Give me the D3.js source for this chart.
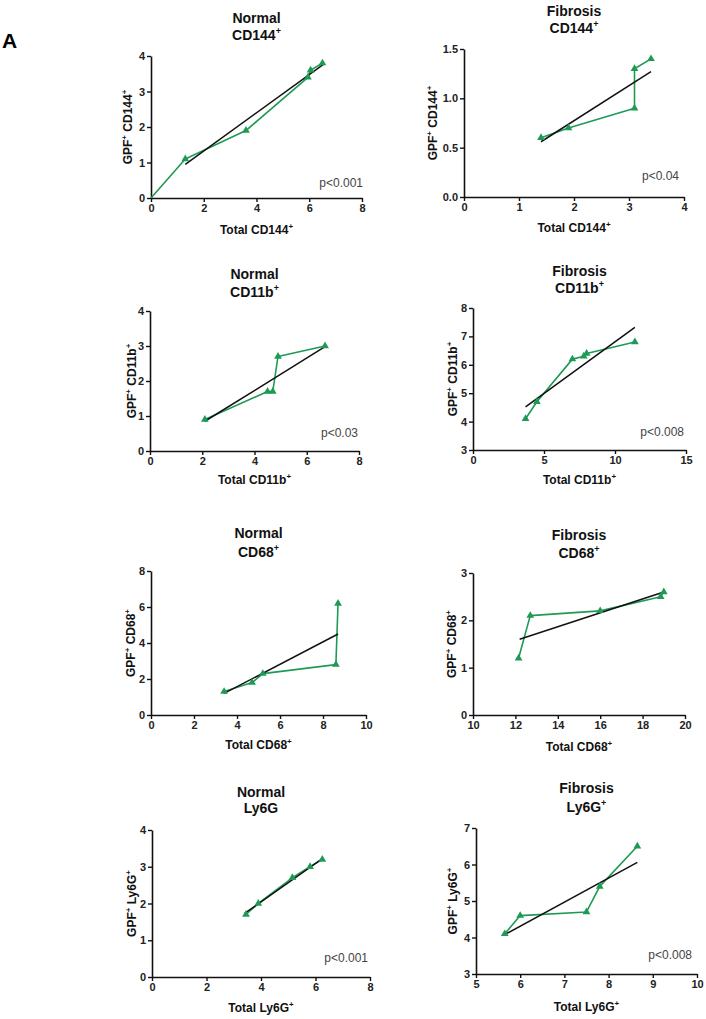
<!DOCTYPE html>
<html><head><meta charset="utf-8">
<script src="https://cdn.jsdelivr.net/npm/d3@7"></script>
<style>
body{margin:0;background:#fff;}
svg{display:block;font-family:"Liberation Sans",Arial,sans-serif;}
</style></head>
<body>
<svg id="c" width="706" height="1019"></svg>
<script>
// ---------- data ----------
const normalCD144X = [1.3, 3.6, 5.95, 6.05, 6.5];
const normalCD144Y = [1.1, 1.9, 3.4, 3.6, 3.8];
const normalCD144Start = [0, 0];
const normalCD144Fit = [[1.3, 0.95], [6.55, 3.77]];

const fibrosisCD144X = [1.4, 1.9, 3.1, 3.1, 3.4];
const fibrosisCD144Y = [0.6, 0.7, 0.9, 1.3, 1.4];
const fibrosisCD144Fit = [[1.4, 0.56], [3.4, 1.27]];

const normalCD11bX = [2.1, 4.5, 4.7, 4.9, 6.7];
const normalCD11bY = [0.9, 1.7, 1.7, 2.7, 3.0];
const normalCD11bFit = [[2.1, 0.85], [6.7, 2.98]];

const fibrosisCD11bX = [3.7, 4.5, 7.0, 7.8, 8.0, 11.4];
const fibrosisCD11bY = [4.1, 4.7, 6.2, 6.3, 6.4, 6.8];
const fibrosisCD11bFit = [[3.7, 4.52], [11.4, 7.32]];

const normalCD68X = [3.4, 4.7, 5.2, 8.6, 8.7];
const normalCD68Y = [1.3, 1.8, 2.3, 2.8, 6.2];
const normalCD68Fit = [[3.4, 1.2], [8.7, 4.5]];

const fibrosisCD68X = [12.15, 12.7, 16.0, 18.85, 19.0];
const fibrosisCD68Y = [1.2, 2.1, 2.2, 2.5, 2.6];
const fibrosisCD68Fit = [[12.2, 1.6], [19.0, 2.6]];

const normalLy6GX = [3.45, 3.9, 5.15, 5.8, 6.25];
const normalLy6GY = [1.7, 2.0, 2.7, 3.0, 3.2];
const normalLy6GFit = [[3.4, 1.73], [6.25, 3.22]];

const fibrosisLy6GX = [5.65, 6.0, 7.5, 7.8, 8.65];
const fibrosisLy6GY = [4.1, 4.6, 4.7, 5.4, 6.5];
const fibrosisLy6GFit = [[5.65, 4.08], [8.65, 6.06]];

// tick labels
const ticksX0to8 = [0, 2, 4, 6, 8];
const ticksX0to4 = [0, 1, 2, 3, 4];
const ticksX0to15 = [0, 5, 10, 15];
const ticksX0to10 = [0, 2, 4, 6, 8, 10];
const ticksX10to20 = [10, 12, 14, 16, 18, 20];
const ticksX5to10 = [5, 6, 7, 8, 9, 10];
const ticksY0to4 = [0, 1, 2, 3, 4];
const ticksY0to15 = [0, 0.5, 1.0, 1.5];
const ticksY3to8 = [3, 4, 5, 6, 7, 8];
const ticksY0to8 = [0, 2, 4, 6, 8];
const ticksY0to3 = [0, 1, 2, 3];
const ticksY3to7 = [3, 4, 5, 6, 7];

// text
const panelLabel = "A";
const titles = [["Normal","CD144"],["Fibrosis","CD144"],["Normal","CD11b"],["Fibrosis","CD11b"],
                ["Normal","CD68"],["Fibrosis","CD68"],["Normal","Ly6G"],["Fibrosis","Ly6G"]];
const titleSup = [true,true,true,true,true,true,false,true];
const markers = ["CD144","CD144","CD11b","CD11b","CD68","CD68","Ly6G","Ly6G"];
const pValues = ["p<0.001","p<0.04","p<0.03","p<0.008",null,null,"p<0.001","p<0.008"];

// ---------- layout ----------
const panels = [
 {x:normalCD144X,y:normalCD144Y,start:normalCD144Start,fit:normalCD144Fit,xd:[0,8],yd:[0,4],xt:ticksX0to8,yt:ticksY0to4,yf:d3.format("d"),
  px:[151,362],py:[198,56],t1:23,t2:40,xl:234,yl:132,p:[363,187]},
 {x:fibrosisCD144X,y:fibrosisCD144Y,fit:fibrosisCD144Fit,xd:[0,4],yd:[0,1.5],xt:ticksX0to4,yt:ticksY0to15,yf:d3.format(".1f"),
  px:[464,684],py:[197,49],t1:16,t2:33,xl:232,yl:437,p:[679,180]},
 {x:normalCD11bX,y:normalCD11bY,fit:normalCD11bFit,xd:[0,8],yd:[0,4],xt:ticksX0to8,yt:ticksY0to4,yf:d3.format("d"),
  px:[150,359],py:[451,311],t1:279,t2:297,xl:484,yl:136,p:[358,437]},
 {x:fibrosisCD11bX,y:fibrosisCD11bY,fit:fibrosisCD11bFit,xd:[0,15],yd:[3,8],xt:ticksX0to15,yt:ticksY3to8,yf:d3.format("d"),
  px:[473,686],py:[450,308],t1:276,t2:293,xl:484,yl:457,p:[684,436]},
 {x:normalCD68X,y:normalCD68Y,fit:normalCD68Fit,xd:[0,10],yd:[0,8],xt:ticksX0to10,yt:ticksY0to8,yf:d3.format("d"),
  px:[151,366],py:[715,571],t1:538,t2:557,xl:749,yl:135,p:null},
 {x:fibrosisCD68X,y:fibrosisCD68Y,fit:fibrosisCD68Fit,xd:[10,20],yd:[0,3],xt:ticksX10to20,yt:ticksY0to3,yf:d3.format("d"),
  px:[473,685],py:[715,573],t1:540,t2:558,xl:751,yl:456,p:null},
 {x:normalLy6GX,y:normalLy6GY,fit:normalLy6GFit,xd:[0,8],yd:[0,4],xt:ticksX0to8,yt:ticksY0to4,yf:d3.format("d"),
  px:[152,370],py:[977,830],t1:797,t2:813,xl:1012,yl:136,p:[368,962]},
 {x:fibrosisLy6GX,y:fibrosisLy6GY,fit:fibrosisLy6GFit,xd:[5,10],yd:[3,7],xt:ticksX5to10,yt:ticksY3to7,yf:d3.format("d"),
  px:[476,697],py:[974,828],t1:793,t2:812,xl:1011,yl:457,p:[692,959]}
];

const green = "#1f9a55";
const svg = d3.select("#c");

svg.append("text").attr("x",2).attr("y",48).attr("font-size",21).attr("font-weight","bold")
   .attr("fill","#000").text(panelLabel);

function supText(sel, parts){
  // parts: array of [text, isSup]
  parts.forEach(([t,s])=>{
    const ts = sel.append("tspan").text(t);
    if(s){ ts.attr("font-size","0.62em").attr("dy","-0.45em"); sel.append("tspan").attr("dy","0.28em").text("\u200B"); }
  });
}

panels.forEach((p,i)=>{
  const g = svg.append("g");
  const x = d3.scaleLinear().domain(p.xd).range(p.px);
  const y = d3.scaleLinear().domain(p.yd).range(p.py);
  const cx = (p.px[0]+p.px[1])/2;

  // titles
  g.append("text").attr("x",cx).attr("y",p.t1).attr("text-anchor","middle")
    .attr("font-size",14).attr("font-weight","bold").attr("fill","#111").text(titles[i][0]);
  const t2 = g.append("text").attr("x",cx).attr("y",p.t2).attr("text-anchor","middle")
    .attr("font-size",14).attr("font-weight","bold").attr("fill","#111");
  if(titleSup[i]){
    t2.append("tspan").text(titles[i][1]);
    t2.append("tspan").attr("font-size",9).attr("dy",-6).text("+");
  } else t2.text(titles[i][1]);

  // axes
  const xa = g.append("g").attr("transform",`translate(0,${p.py[0]})`)
    .call(d3.axisBottom(x).tickValues(p.xt).tickSize(4).tickSizeOuter(0).tickPadding(2).tickFormat(d3.format("d")));
  const ya = g.append("g").attr("transform",`translate(${p.px[0]},0)`)
    .call(d3.axisLeft(y).tickValues(p.yt).tickSize(4).tickSizeOuter(0).tickPadding(2).tickFormat(p.yf));
  [xa,ya].forEach(a=>{
    a.select(".domain").attr("stroke","#111").attr("stroke-width",1.6);
    a.selectAll(".tick line").attr("stroke","#111").attr("stroke-width",1.4);
    a.selectAll(".tick text").attr("font-size",11).attr("font-weight","bold").attr("fill","#222")
      .attr("font-family","Liberation Sans, Arial, sans-serif");
  });

  // axis titles
  const xl = g.append("text").attr("x",cx).attr("y",p.xl).attr("text-anchor","middle")
    .attr("font-size",12).attr("font-weight","bold").attr("fill","#111");
  xl.append("tspan").text("Total "+markers[i]);
  xl.append("tspan").attr("font-size",8).attr("dy",-5).text("+");

  const cy = (p.py[0]+p.py[1])/2;
  const yl = g.append("text").attr("transform",`translate(${p.yl},${cy}) rotate(-90)`)
    .attr("text-anchor","middle").attr("font-size",12).attr("font-weight","bold").attr("fill","#111");
  yl.append("tspan").text("GPF");
  yl.append("tspan").attr("font-size",8).attr("dy",-5).text("+");
  yl.append("tspan").attr("dy",5).text(" "+markers[i]);
  yl.append("tspan").attr("font-size",8).attr("dy",-5).text("+");

  // data line
  let pts = p.x.map((v,k)=>[v,p.y[k]]);
  const linePts = p.start ? [p.start].concat(pts) : pts;
  const line = d3.line().x(d=>x(d[0])).y(d=>y(d[1]));
  g.append("path").datum(linePts).attr("d",line).attr("fill","none")
    .attr("stroke",green).attr("stroke-width",1.6).attr("stroke-linejoin","round");

  // fit line
  g.append("path").datum(p.fit).attr("d",line).attr("fill","none")
    .attr("stroke","#111").attr("stroke-width",1.5);

  // markers
  const sym = d3.symbol().type(d3.symbolTriangle).size(26);
  g.selectAll("path.m").data(pts).join("path").attr("class","m")
    .attr("transform",d=>`translate(${x(d[0])},${y(d[1])})`).attr("d",sym).attr("fill",green);

  // p value
  if(p.p){
    g.append("text").attr("x",p.p[0]).attr("y",p.p[1]).attr("text-anchor","end")
      .attr("font-size",12).attr("fill","#444").text(pValues[i]);
  }
});
</script>
</body></html>
